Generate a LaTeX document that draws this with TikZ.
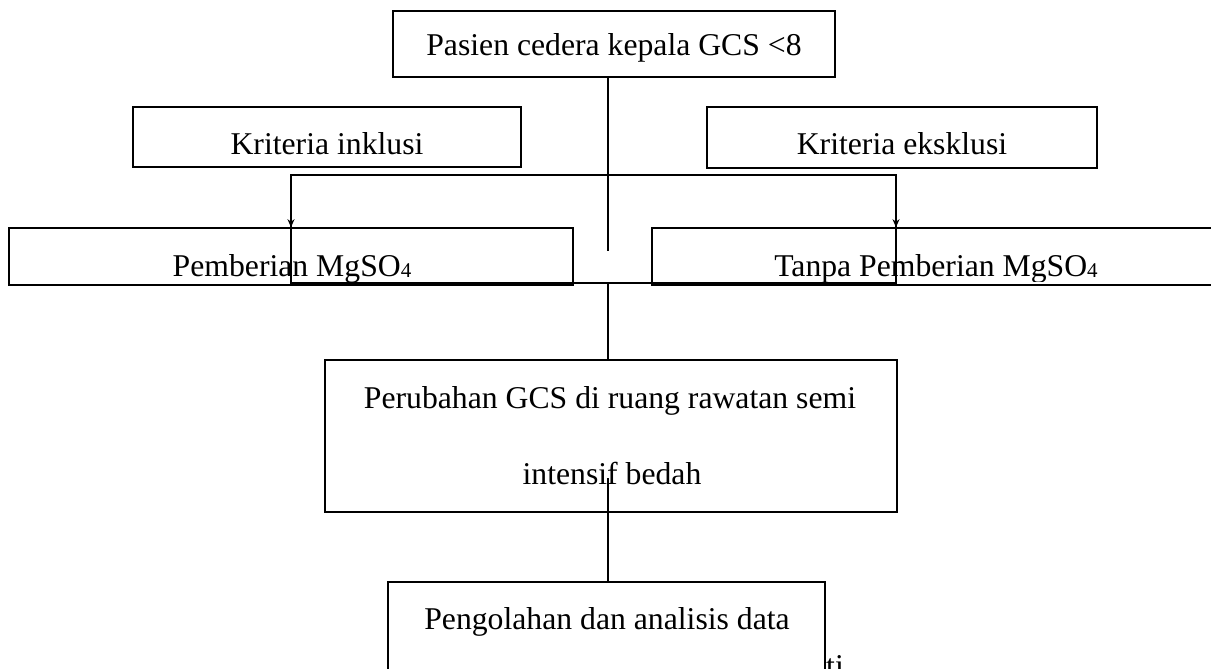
\documentclass[tikz,border=0pt]{standalone}
\usepackage{fontspec}
\setmainfont{Liberation Serif}
\usetikzlibrary{arrows.meta,calc}
\newcommand{\subfour}{{\fontsize{21}{21}\selectfont\raisebox{-1.5pt}{4}}}
\begin{document}
\begin{tikzpicture}[x=1pt,y=-1pt,
  box/.style={draw,line width=1.6pt,inner sep=0pt,fill=none},
  txt/.style={anchor=base,inner sep=0pt,font=\fontsize{31.7}{38}\selectfont},
  conn/.style={line width=1.4pt},
  brk/.style={line width=1.1pt},
  arr/.style={line width=1.1pt,-{Stealth[length=8pt,width=7pt]}}]
\useasboundingbox (0,0) rectangle (1211,669);
\clip (0,0) rectangle (1211,669);
% boxes
\node[box,minimum width=442pt,minimum height=66pt] (top) at (614,44) {};
\node[box,minimum width=388pt,minimum height=60pt] (inkl) at (327,137) {};
\node[box,minimum width=390pt,minimum height=61pt] (eksk) at (902,137.5) {};
\node[box,minimum width=564pt,minimum height=57pt] (pem) at (291,256.5) {};
\node[box,minimum width=570pt,minimum height=57pt] (tanpa) at (937,256.5) {};
\node[box,minimum width=572pt,minimum height=152pt] (per) at (611,436) {};
\node[box,minimum width=437pt,minimum height=118pt] (peng) at (606.5,641) {};
% texts
\node[txt] (ttop) at (614,56) {Pasien cedera kepala GCS <8};
\node[txt] (tinkl) at (327,154) {Kriteria inklusi};
\node[txt] (teksk) at (902,154) {Kriteria eksklusi};
\begin{scope}
\clip (0,0) rectangle (1211,281);
\node[txt] (tpem) at (292,276) {Pemberian MgSO\subfour};
\node[txt] (ttanpa) at (936,276) {Tanpa Pemberian MgSO\subfour};
\end{scope}
\node[txt] (tper1) at (610,408) {Perubahan GCS di ruang rawatan semi};
\node[txt] (tper2) at (612,484) {intensif bedah};
\node[txt] (tpeng) at (607,629) {Pengolahan dan analisis data};
\node[txt,anchor=base west] (tti) at (826,676) {ti};
% connectors
\coordinate (c1) at (608,251);
\coordinate (c2) at (608,282);
\coordinate (c3) at (608,478);
\coordinate (bl) at (291,175);
\coordinate (br) at (896,175);
\coordinate (bl2) at (291,283);
\coordinate (br2) at (896,283);
\draw[conn] (top.south -| c1) -- (c1);
\draw[conn] (c2) -- (c2 |- per.north);
\draw[conn] (c3) -- (c3 |- peng.north);
\draw[brk] (bl2) -- (bl) -- (br) -- (br2) -- cycle;
\draw[arr] (bl) -- (bl |- pem.north);
\draw[arr] (br) -- (br |- tanpa.north);
\end{tikzpicture}
\end{document}
